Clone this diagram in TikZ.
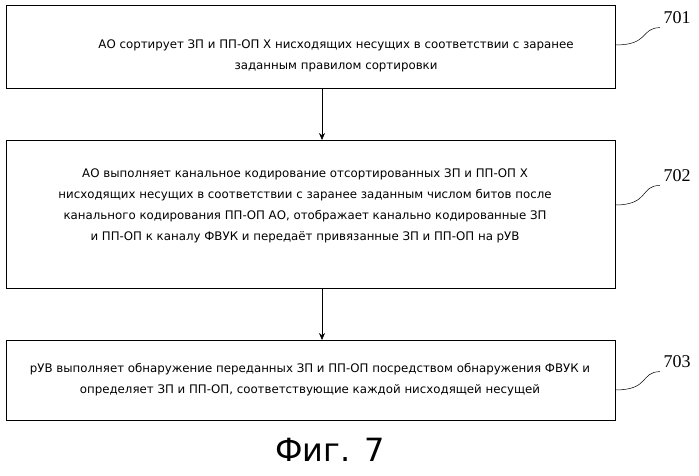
\documentclass[tikz,border=0pt]{standalone}
\usepackage{fontspec}
\setmainfont{DejaVu Sans}
\newfontfamily\numfont{Liberation Serif}
\usetikzlibrary{arrows.meta}
\begin{document}
\begin{tikzpicture}[x=1pt,y=-1pt,
  boxst/.style={draw,line width=0.5pt,inner sep=0pt},
  txt/.style={font=\fontsize{11.8}{21}\selectfont,align=center},
  num/.style={font=\numfont\fontsize{18}{19}\selectfont},
  arr/.style={-{Stealth[length=7pt,width=6pt]},line width=0.5pt},
  lead/.style={line width=0.5pt}]
\useasboundingbox (0,0) rectangle (699,476);
\draw[boxst] (6,5) rectangle (615,88);
\node[txt] (t1) at (336,56) {АО сортирует ЗП и ПП-ОП Х нисходящих несущих в соответствии с заранее\\заданным правилом сортировки};
\draw[boxst] (6,140) rectangle (615,288);
\node[txt] (t2) at (305,206) {АО выполняет канальное кодирование отсортированных ЗП и ПП-ОП Х\\нисходящих несущих в соответствии с заранее заданным числом битов после\\канального кодирования ПП-ОП АО, отображает канально кодированные ЗП\\и ПП-ОП к каналу ФВУК и передаёт привязанные ЗП и ПП-ОП на рУВ};
\draw[boxst] (6,340) rectangle (615,420);
\node[txt] (t3) at (310,380) {рУВ выполняет обнаружение переданных ЗП и ПП-ОП посредством обнаружения ФВУК и\\определяет ЗП и ПП-ОП, соответствующие каждой нисходящей несущей};
\coordinate (b1) at (322,88); \coordinate (a2) at (322,140);
\coordinate (b2) at (322,288); \coordinate (a3) at (322,340);
\draw[arr] (b1) -- (a2);
\draw[arr] (b2) -- (a3);
\node[num] (n1) at (677,18) {701};
\node[num] (n2) at (677,176) {702};
\node[num] (n3) at (677,362) {703};
\coordinate (r1) at (615,45); \coordinate (r2) at (615,205); \coordinate (r3) at (615,390);
\draw[lead] (n1.south west) .. controls (640,28) and (650,45) .. (r1);
\draw[lead] (n2.south west) .. controls (640,185) and (650,205) .. (r2);
\draw[lead] (n3.south west) .. controls (640,372) and (650,390) .. (r3);
\node[font=\fontsize{32}{34}\selectfont] (fig) at (330,450) {Фиг. 7};
\end{tikzpicture}
\end{document}
